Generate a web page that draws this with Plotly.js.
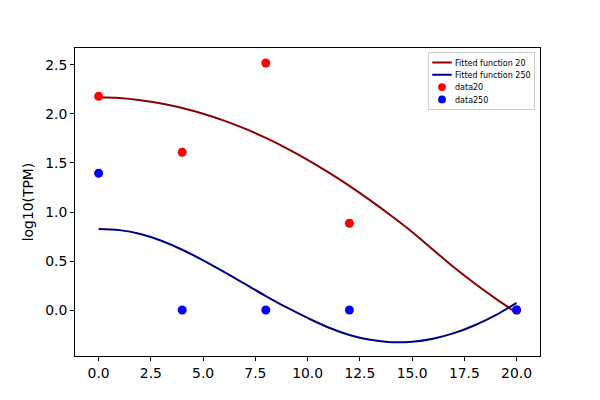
<!DOCTYPE html>
<html>
<head>
<meta charset="utf-8">
<script src="https://cdn.plot.ly/plotly-3.0.1.min.js"></script>
<style>
  html, body { margin: 0; padding: 0; background: #fff; }
  #chart { width: 600px; height: 400px; }
</style>
</head>
<body>
<div id="chart"></div>
<script>
// points, one per unit of x
const fitX = [0, 1, 2, 3, 4, 5, 6, 7, 8, 9, 10, 11, 12, 13, 14, 15, 16, 17, 18, 19, 20]
const fit20 = [2.17, 2.162, 2.14, 2.106, 2.06, 2.002, 1.932, 1.85, 1.756, 1.65, 1.532,
    1.404, 1.266, 1.118, 0.961, 0.796, 0.616, 0.436, 0.271, 0.116, -0.029]
const fit250 = [0.827, 0.815, 0.775, 0.707, 0.615, 0.507, 0.389, 0.266, 0.143, 0.026, -0.081,
    -0.178, -0.254, -0.304, -0.328, -0.324, -0.293, -0.236, -0.155, -0.052, 0.073]

// measured data
const dataX = [0, 4, 8, 12, 20]
const data20 = [2.18, 1.61, 2.52, 0.885, 0]
const data250 = [1.395, 0, 0, 0, 0]

const fontFamily = 'DejaVu Sans, sans-serif'
const legendScale = 0.65

let traces = [
    {
        x: fitX,
        y: fit20,
        mode: 'lines',
        name: 'Fitted function 20',
        line: {color: '#8b0000', width: 2, shape: 'spline'},
    },
    {
        x: fitX,
        y: fit250,
        mode: 'lines',
        name: 'Fitted function 250',
        line: {color: '#000080', width: 2, shape: 'spline'},
    },
    {
        x: dataX,
        y: data20,
        mode: 'markers',
        name: 'data20',
        marker: {color: '#ff0000', size: 9},
    },
    {
        x: dataX,
        y: data250,
        mode: 'markers',
        name: 'data250',
        marker: {color: '#0000ff', size: 9},
    },
]

let axisCommon = {
    showline: true,
    mirror: true,
    linecolor: '#000',
    linewidth: 1,
    showgrid: false,
    zeroline: false,
    ticks: 'outside',
    ticklen: 4,
    tickwidth: 1,
    tickcolor: '#000',
    tickfont: {family: fontFamily, size: 13.9, color: '#000'},
    tickformat: '.1f',
}

let layout = {
    width: 600,
    height: 400,
    margin: {l: 75, r: 60, t: 48, b: 44},
    paper_bgcolor: '#fff',
    plot_bgcolor: '#fff',
    font: {family: fontFamily, color: '#000'},
    xaxis: Object.assign({}, axisCommon, {
        range: [-1.13, 21.12],
        tick0: 0,
        dtick: 2.5,
    }),
    yaxis: Object.assign({}, axisCommon, {
        range: [-0.469, 2.673],
        tick0: 0,
        dtick: 0.5,
        title: {text: 'log10(TPM)', font: {family: fontFamily, size: 13.9, color: '#000'}, standoff: 8},
    }),
    legend: {
        x: 0.991,
        y: 0.987,
        xanchor: 'right',
        yanchor: 'top',
        bgcolor: 'rgba(255,255,255,0.8)',
        bordercolor: '#cccccc',
        borderwidth: 1.5,
        itemsizing: 'constant',
        font: {family: fontFamily, size: 8 / legendScale, color: '#000'},
        tracegroupgap: 0,
    },
    showlegend: true,
}

Plotly.newPlot('chart', traces, layout, {displayModeBar: false, staticPlot: true}).then(() => {
    // plotly keeps legend rows at least ~19px tall, so shrink the whole box
    // around its top-right corner to get the compact matplotlib look
    let legend = document.querySelector('.legend')
    if (!legend) return
    let bg = legend.querySelector('.bg')
    let w = parseFloat(bg.getAttribute('width'))
    let m = /translate\(\s*([-\d.]+)[ ,]+([-\d.]+)\s*\)/.exec(legend.getAttribute('transform'))
    let tx = parseFloat(m[1])
    let ty = parseFloat(m[2])
    legend.setAttribute('transform',
        'translate(' + (tx + w * (1 - legendScale)) + ',' + ty + ') scale(' + legendScale + ')')

    // constant item sizing makes the legend lines too fat after the shrink
    legend.querySelectorAll('.legendlines path').forEach((p) => {
        p.style.strokeWidth = '3px'
    })
})
</script>
</body>
</html>
